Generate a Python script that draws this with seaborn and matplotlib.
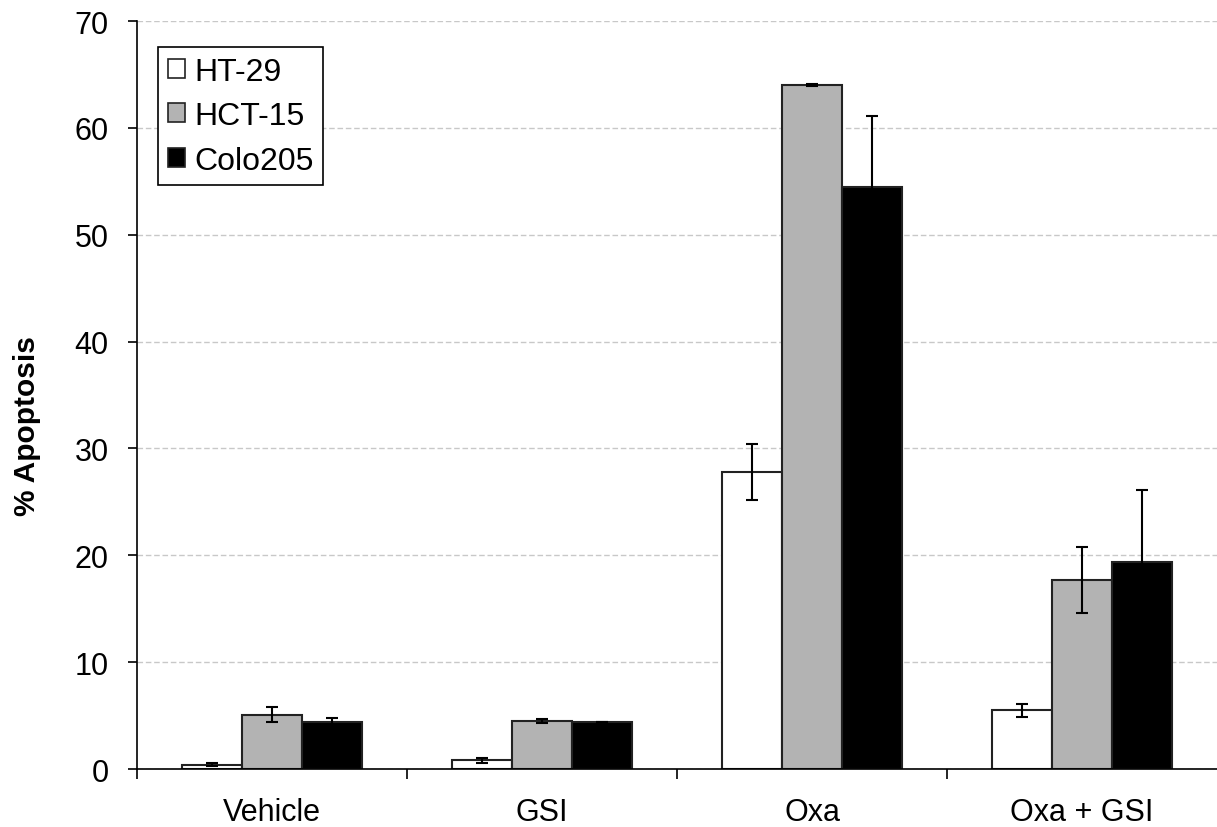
import matplotlib
matplotlib.use("Agg")
import matplotlib.pyplot as plt
import seaborn as sns
import numpy as np
import pandas as pd

# Treatment groups and cell lines
treatments = ["Vehicle", "GSI", "Oxa", "Oxa + GSI"]
cell_lines = ["HT-29", "HCT-15", "Colo205"]

# Mean % apoptosis per cell line, in treatment order
ht29_mean = [0.4, 0.8, 27.8, 5.5]
hct15_mean = [5.1, 4.5, 64.0, 17.7]
colo205_mean = [4.4, 4.4, 54.5, 19.4]

# Error (±) per cell line, in treatment order
ht29_err = [0.12, 0.2, 2.65, 0.6]
hct15_err = [0.7, 0.2, 0.1, 3.1]
colo205_err = [0.4, 0.0, 6.6, 6.7]

y_ticks = [0, 10, 20, 30, 40, 50, 60, 70]

means = [ht29_mean, hct15_mean, colo205_mean]
errs = [ht29_err, hct15_err, colo205_err]

df = pd.DataFrame({
    "Treatment": np.repeat([treatments], len(cell_lines), axis=0).ravel(),
    "Cell line": np.repeat(cell_lines, len(treatments)),
    "Apoptosis": np.ravel(means),
    "Error": np.ravel(errs),
})

sns.set_theme(style="white")
plt.rcParams["font.family"] = ["Liberation Sans", "DejaVu Sans"]
plt.rcParams["text.color"] = "#000000"
plt.rcParams["axes.labelcolor"] = "#000000"
plt.rcParams["xtick.color"] = "#000000"
plt.rcParams["ytick.color"] = "#000000"

fig = plt.figure(figsize=(12.17, 8.28), dpi=100)
ax = fig.add_axes([0.1126, 0.07, 0.8874, 0.9034])

palette = {"HT-29": "#ffffff", "HCT-15": "#b3b3b3", "Colo205": "#000000"}
sns.barplot(data=df, x="Treatment", y="Apoptosis", hue="Cell line",
            order=treatments, hue_order=cell_lines, palette=palette,
            errorbar=None, width=0.667, edgecolor="#222222", linewidth=1.5,
            saturation=1, ax=ax, zorder=2)

# Error bars centred on each bar
for container, line in zip(ax.containers, cell_lines):
    sub = df[df["Cell line"] == line].set_index("Treatment").loc[treatments]
    xs = [p.get_x() + p.get_width() / 2 for p in container]
    ax.errorbar(xs, sub["Apoptosis"].values, yerr=sub["Error"].values,
                fmt="none", ecolor="#000000", elinewidth=1.5, capsize=4,
                capthick=1.5, zorder=3)

ax.set_xlim(-0.5, 3.5)
ax.set_ylim(0, 70)
ax.set_yticks(y_ticks)
ax.yaxis.grid(True, linestyle=(0, (4, 2)), color="#c8c8c8", linewidth=1)
ax.set_axisbelow(True)

for side in ["top", "right"]:
    ax.spines[side].set_visible(False)
for side in ["left", "bottom"]:
    ax.spines[side].set_color("#000000")
    ax.spines[side].set_linewidth(1.2)

# Category labels at centres, tick marks at the boundaries
ax.set_xticks(range(len(treatments)))
ax.set_xticklabels(treatments, fontsize=22)
ax.set_xticks([-0.5, 0.5, 1.5, 2.5], minor=True)
ax.tick_params(axis="x", which="major", length=0, pad=20)
ax.tick_params(axis="x", which="minor", bottom=True, length=7, width=1.2,
               color="#000000")
ax.tick_params(axis="y", left=True, length=6.5, width=1.2, color="#000000",
               labelsize=22, pad=14)

ax.set_xlabel("")
ax.set_ylabel("% Apoptosis", fontsize=21.5, fontweight="bold")
ax.yaxis.set_label_coords(-0.0888, 0.46)

leg = ax.legend(loc="upper left", bbox_to_anchor=(0.0194, 0.965),
                fontsize=23, frameon=True, fancybox=False, framealpha=1,
                handlelength=0.55, handleheight=0.55, handletextpad=0.28,
                borderpad=0.3, labelspacing=0.45, borderaxespad=0)
leg.get_frame().set_edgecolor("#000000")
leg.get_frame().set_linewidth(1.2)
for h in leg.legend_handles:
    h.set_edgecolor("#222222")
    h.set_linewidth(1.2)

fig.savefig("out.png", dpi=100)
